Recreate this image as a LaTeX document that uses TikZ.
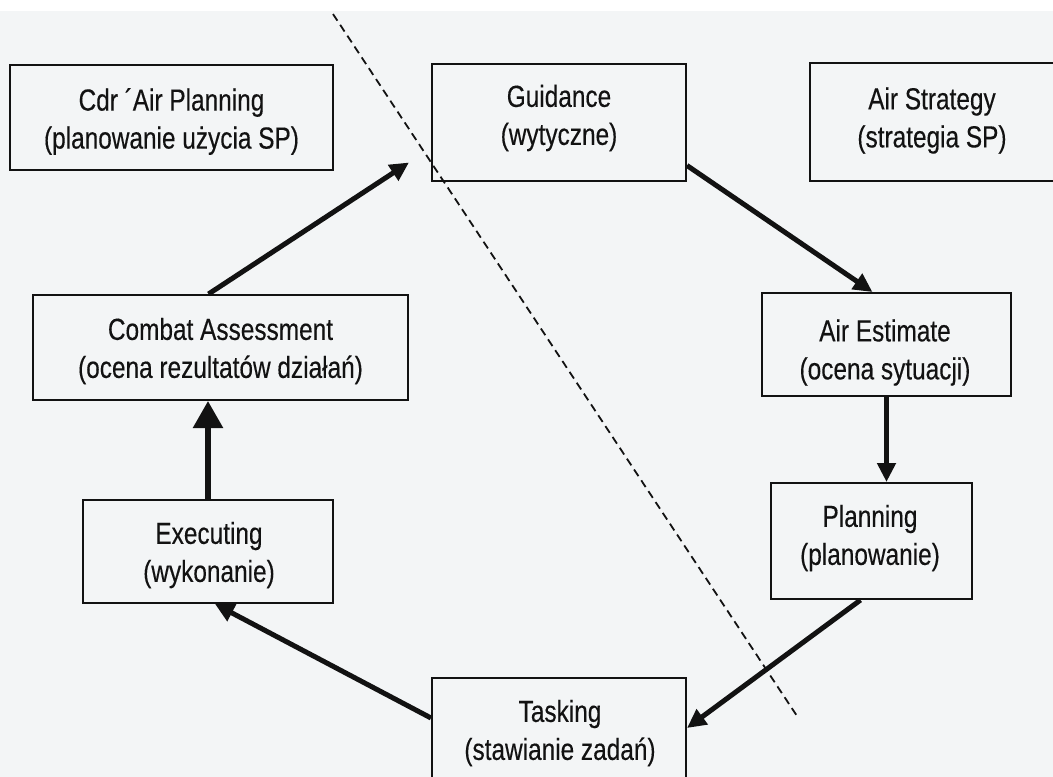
\documentclass[tikz,border=0pt]{standalone}
\usepackage{fontspec}
\setmainfont{Liberation Sans}[FakeStretch=0.8,FakeBold=0.3]
\usetikzlibrary{arrows.meta,calc}
\definecolor{paper}{RGB}{243,245,246}
\definecolor{ink}{RGB}{18,18,18}
\begin{document}
\begin{tikzpicture}[x=1pt,y=-1pt,
  box/.style={draw=ink,line width=2pt,rectangle,inner sep=0pt},
  lbl/.style={align=center,font=\fontsize{30.5}{38}\selectfont,text=ink,inner sep=0pt},
  flow/.style={draw=ink,line width=5pt,-{Triangle[length=19pt,width=18pt]}},
  bigflow/.style={draw=ink,line width=5.5pt,-{Triangle[length=27pt,width=29pt]}},
  divider/.style={draw=ink,line width=1.8pt,dash pattern=on 8pt off 5pt}]

% sheet
\fill[paper] (0,0) rectangle (1053,777);
\fill[white] (0,0) rectangle (1053,11);
\useasboundingbox (0,0) rectangle (1053,777);
\clip (0,0) rectangle (1053,777);

% boxes
\node[box,minimum width=323pt,minimum height=105pt] (cdr)   at (171.5,117.5) {};
\node[box,minimum width=254pt,minimum height=117pt] (guid)  at (559,122.5) {};
\node[box,minimum width=245pt,minimum height=118pt] (strat) at (932.5,122) {};
\node[box,minimum width=375pt,minimum height=105pt] (comb)  at (220.5,347.5) {};
\node[box,minimum width=249pt,minimum height=103pt] (est)   at (886.5,344.5) {};
\node[box,minimum width=250pt,minimum height=103pt] (exe)   at (208,551.5) {};
\node[box,minimum width=201pt,minimum height=116pt] (plan)  at (871.5,541) {};
\node[box,minimum width=254pt,minimum height=112pt] (task)  at (559,734) {};

% labels
\node[lbl] (cdr-t)   at (171.5,121.5) {Cdr ´Air Planning\\(planowanie użycia SP)};
\node[lbl] (guid-t)  at (559,118)     {Guidance\\(wytyczne)};
\node[lbl] (strat-t) at (932,120.5)   {Air Strategy\\(strategia SP)};
\node[lbl] (comb-t)  at (220.5,351)   {Combat Assessment\\(ocena rezultatów działań)};
\node[lbl] (est-t)   at (885,352.5)   {Air Estimate\\(ocena sytuacji)};
\node[lbl] (exe-t)   at (209,555)     {Executing\\(wykonanie)};
\node[lbl] (plan-t)  at (870,538)     {Planning\\(planowanie)};
\node[lbl] (task-t)  at (560,733)     {Tasking\\(stawianie zadań)};

% dividing line
\coordinate (divtop) at (333,14);
\coordinate (divbot) at (797,716);
\draw[divider] (divtop) -- (divbot);

% cycle connectors
\draw[flow] ([xshift=-12pt]comb.north) -- ($(guid.west)+(-22,40)$);
\draw[flow] ($(guid.east)+(0,43)$) -- ($(est.north)+(-14,0)$);
\draw[flow] (est.south) -- (est.south |- plan.north);
\draw[flow] ($(plan.south)+(-11,0)$) -- ($(task.east)+(0,-6)$);
\draw[flow] ($(task.west)+(0,-16)$) -- ($(exe.south)+(7,0)$);
\draw[bigflow] (exe.north) -- (exe.north |- comb.south);

\end{tikzpicture}
\end{document}
